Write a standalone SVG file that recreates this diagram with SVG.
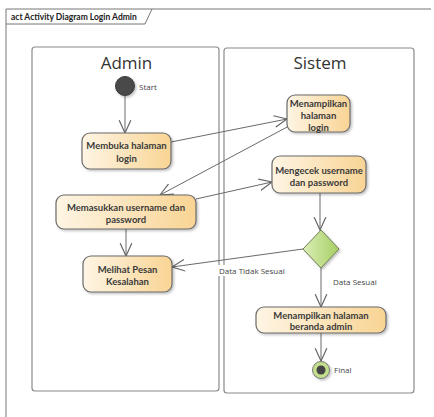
<svg xmlns="http://www.w3.org/2000/svg" width="434" height="417" viewBox="0 0 434 417">
<defs>
<linearGradient id="act" x1="0" y1="0" x2="1" y2="0">
<stop offset="0" stop-color="#fef5e4"/>
<stop offset="1" stop-color="#f9d494"/>
</linearGradient>
<linearGradient id="grn" x1="0" y1="0" x2="1" y2="0">
<stop offset="0" stop-color="#dbeeb8"/>
<stop offset="1" stop-color="#a6cf62"/>
</linearGradient>
<filter id="sh" x="-20%" y="-20%" width="140%" height="150%">
<feDropShadow dx="1.5" dy="1.5" stdDeviation="1" flood-color="#000" flood-opacity="0.25"/>
</filter>
<marker id="arr" markerUnits="userSpaceOnUse" markerWidth="14" markerHeight="14" viewBox="0 0 12 12" refX="11" refY="6" orient="auto">
<path d="M0,1 L11,6 L0,11" fill="none" stroke="#666" stroke-width="1"/>
</marker>
</defs>
<style>
.frame{fill:none;stroke:#777;stroke-width:1}
.lane{fill:#fff;stroke:#8a8a8a;stroke-width:1.2}
.lanet{font-family:"Open Sans","Noto Sans",sans-serif;font-size:17px;fill:#333;text-anchor:middle}
.act{fill:url(#act);stroke:#6b6b6b;stroke-width:1.2;filter:url(#sh)}
.lbl{font-family:Lato,"Open Sans",sans-serif;font-size:9.5px;font-weight:700;fill:#3a3a3a;text-anchor:middle}
.sm{font-family:"Open Sans","Noto Sans",sans-serif;font-size:8px;fill:#444}
.edge{fill:none;stroke:#6a6a6a;stroke-width:1;marker-end:url(#arr)}
</style>
<rect x="0" y="0" width="434" height="417" fill="#fff"/>
<g id="frame">
<path class="frame" d="M6,417 V9 H431"/>
<path class="frame" d="M6,24 H145 L152,9"/>
<text x="11" y="20" style="font-family:Lato,'Open Sans',sans-serif;font-size:8.5px;font-weight:700;fill:#222">act Activity Diagram Login Admin</text>
</g>
<g id="lane-admin">
<rect class="lane" x="32" y="47" width="187" height="344" rx="3"/>
<text class="lanet" x="126.5" y="69">Admin</text>
</g>
<g id="lane-sistem">
<rect class="lane" x="224" y="48" width="190" height="345" rx="3"/>
<text class="lanet" x="320" y="69">Sistem</text>
</g>
<g id="connectors">
<line class="edge" x1="125" y1="96" x2="125" y2="133"/>
<line class="edge" x1="171" y1="142" x2="287" y2="119"/>
<line class="edge" x1="289" y1="126" x2="160" y2="195"/>
<line class="edge" x1="196" y1="199" x2="272" y2="182"/>
<line class="edge" x1="126" y1="229" x2="126" y2="256"/>
<line class="edge" x1="320" y1="193" x2="320" y2="230"/>
<line class="edge" x1="303" y1="249" x2="172" y2="267"/>
<line class="edge" x1="321" y1="268" x2="321" y2="307"/>
<line class="edge" x1="321" y1="333" x2="321" y2="361"/>
<rect x="218" y="265" width="69" height="11" fill="#fff"/>
<text class="sm" x="219" y="274">Data Tidak Sesuai</text>
<text class="sm" x="333" y="285">Data Sesuai</text>
</g>
<g id="start">
<circle cx="125" cy="86" r="9.5" fill="#4a4a4a" stroke="#3a3a3a" filter="url(#sh)"/>
<text class="sm" x="139" y="90">Start</text>
</g>
<g id="membuka">
<rect class="act" x="82" y="133" width="89" height="36" rx="8"/>
<text class="lbl" x="126.5" y="149">Membuka halaman</text>
<text class="lbl" x="126.5" y="162">login</text>
</g>
<g id="menampilkan-login">
<rect class="act" x="287" y="95" width="63" height="37" rx="8"/>
<text class="lbl" x="318.5" y="107">Menampilkan</text>
<text class="lbl" x="318.5" y="119">halaman</text>
<text class="lbl" x="318.5" y="131">login</text>
</g>
<g id="memasukkan">
<rect class="act" x="56" y="195" width="140" height="34" rx="8"/>
<text class="lbl" x="126" y="211">Memasukkan username dan</text>
<text class="lbl" x="126" y="223">password</text>
</g>
<g id="mengecek">
<rect class="act" x="272" y="156" width="94" height="37" rx="8"/>
<text class="lbl" x="319" y="174">Mengecek username</text>
<text class="lbl" x="319" y="186">dan password</text>
</g>
<g id="melihat">
<rect class="act" x="83" y="256" width="89" height="36" rx="8"/>
<text class="lbl" x="127.5" y="273">Melihat Pesan</text>
<text class="lbl" x="127.5" y="285">Kesalahan</text>
</g>
<g id="decision">
<polygon points="321,230 339,249 321,268 303,249" fill="url(#grn)" stroke="#6f7f55" stroke-width="1" filter="url(#sh)"/>
</g>
<g id="beranda">
<rect class="act" x="256" y="307" width="130" height="26" rx="8"/>
<text class="lbl" x="321" y="319">Menampilkan halaman</text>
<text class="lbl" x="321" y="330">beranda admin</text>
</g>
<g id="final">
<circle cx="321" cy="370" r="8.5" fill="#c3df8e" stroke="#777" stroke-width="1" filter="url(#sh)"/>
<circle cx="321" cy="370" r="4.5" fill="#444"/>
<text class="sm" x="334" y="373">Final</text>
</g>
</svg>
